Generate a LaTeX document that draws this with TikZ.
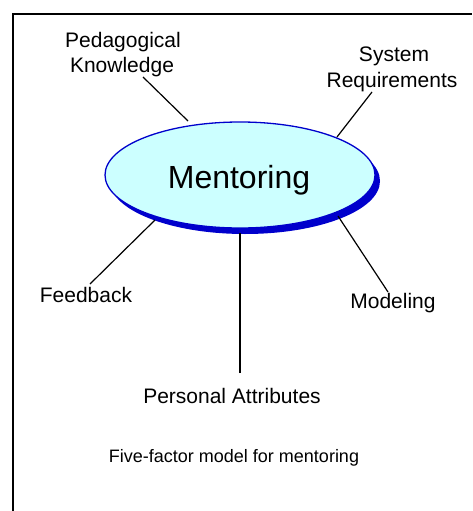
\documentclass[tikz,border=0pt]{standalone}
\usepackage{fontspec}
\setmainfont{Liberation Sans}
\usetikzlibrary{shapes.geometric}
\definecolor{ellfill}{RGB}{204,255,255}
\definecolor{ellblue}{RGB}{0,0,204}
\tikzset{
  lbl/.style={font=\fontsize{21}{25}\selectfont, inner sep=0pt, anchor=base, align=center},
  conn/.style={line width=1.2pt, black},
}
\begin{document}
\begin{tikzpicture}[x=1pt,y=-1pt]
\useasboundingbox (0,0) rectangle (472,511);
% frame (top and left only)
\draw[line width=2.8pt] (13,511) -- (13,14) -- (472,14);
% shadow and ellipse
\fill[ellblue] (245,181) ellipse [x radius=135, y radius=53];
\node[ellipse, draw=ellblue, line width=1.3pt, fill=ellfill, minimum width=270pt, minimum height=106pt, inner sep=0pt] (m) at (240,175) {};
\node[font=\fontsize{32}{38}\selectfont, anchor=base, inner sep=0pt] (mt) at (239,188) {Mentoring};
% labels
\node[lbl] (ped1) at (123,48) {Pedagogical};
\node[lbl] (ped2) at (122,73) {Knowledge};
\node[lbl] (sys1) at (394,62) {System};
\node[lbl] (sys2) at (392,87) {Requirements};
\node[lbl] (fb) at (86,302) {Feedback};
\node[lbl] (mod) at (393,308) {Modeling};
\node[lbl] (pa) at (232,403) {Personal Attributes};
\node[font=\fontsize{18}{22}\selectfont, anchor=base, inner sep=0pt] (cap) at (234,462) {Five-factor model for mentoring};
% connector end points
\coordinate (pedA) at (143,77);
\coordinate (pedB) at (188,121);
\coordinate (sysA) at (372,92);
\coordinate (sysB) at (337,137);
\coordinate (fbA) at (90,284);
\coordinate (fbB) at (155,220);
\coordinate (paA) at (240,373);
\coordinate (paB) at (240,233);
\coordinate (modA) at (388,292);
\coordinate (modB) at (338,216);
\draw[conn] (pedA) -- (pedB);
\draw[conn] (sysA) -- (sysB);
\draw[conn] (fbA) -- (fbB);
\draw[conn] (paA) -- (paB);
\draw[conn] (modA) -- (modB);
\end{tikzpicture}
\end{document}
